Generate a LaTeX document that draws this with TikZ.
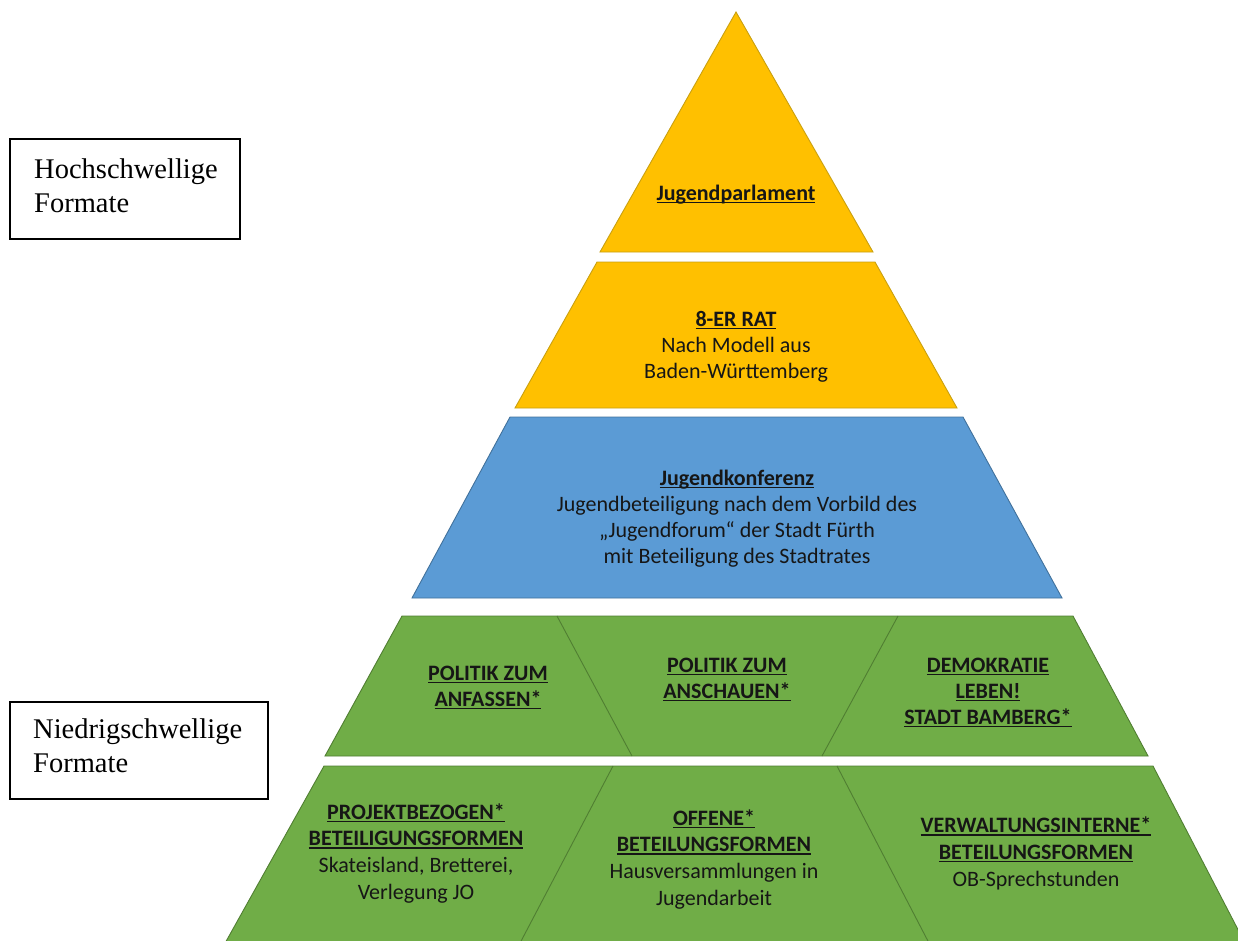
\documentclass[tikz,border=0pt]{standalone}
\usepackage{fontspec}
\setmainfont{Carlito}
\newfontfamily\tnr{Liberation Serif}
\newsavebox\ulbox
\newcommand\ulx[1]{\sbox\ulbox{\textbf{#1}}\rlap{\rule[-2.7pt]{\wd\ulbox}{1.2pt}}\usebox\ulbox}
\definecolor{ylw}{HTML}{FFC000}
\definecolor{ylwd}{HTML}{C9A010}
\definecolor{blu}{HTML}{5B9BD5}
\definecolor{blud}{HTML}{41719C}
\definecolor{grn}{HTML}{70AD47}
\definecolor{grnd}{HTML}{507E32}
\definecolor{txt}{HTML}{161616}
\begin{document}
\begin{tikzpicture}[x=1pt,y=-1pt,
  band/.style={line width=0.9pt, line join=miter},
  yband/.style={band, fill=ylw, draw=ylwd},
  bband/.style={band, fill=blu, draw=blud},
  gband/.style={band, fill=grn, draw=grnd},
  divline/.style={draw=grnd, line width=0.9pt},
  lbl/.style={font=\fontsize{22}{26}\selectfont, align=center, text=txt, anchor=base, inner sep=0pt},
  lblb/.style={lbl, font=\fontsize{22}{26.6}\selectfont},
  sidebox/.style={draw=black, line width=1.3pt},
  sidetext/.style={font=\tnr\fontsize{28.5}{34}\selectfont, align=left, anchor=base west, inner sep=0pt, text=black}]
\useasboundingbox (0,0) rectangle (1238,940);
\clip (0,0) rectangle (1238,940);
% pyramid levels
\path[yband] (736,12) -- (873,252) -- (600,252) -- cycle;
\path[yband] (597,262) -- (875,262) -- (957,408) -- (515,408) -- cycle;
\path[bband] (510,417) -- (963,417) -- (1062,598) -- (412,598) -- cycle;
\path[gband] (402,616) -- (1073,616) -- (1148,756) -- (325,756) -- cycle;
\draw[divline] (557,616) -- (632,756);
\draw[divline] (898,616) -- (822,756);
\path[gband] (324,766) -- (1153,766) -- (1246,945) -- (224,945) -- cycle;
\draw[divline] (613,766) -- (519,945);
\draw[divline] (837,766) -- (930,945);
% texts (anchor = baseline of last line)
\node[lbl] (jp) at (736,200) {\ulx{Jugendparlament}};
\node[lbl] (rat) at (736,378) {\ulx{8-ER RAT}\\Nach Modell aus\\Baden-Württemberg};
\node[lbl] (jk) at (737,563) {\ulx{Jugendkonferenz}\\Jugendbeteiligung nach dem Vorbild des\\„Jugendforum“ der Stadt Fürth\\mit Beteiligung des Stadtrates};
\node[lbl] (pza) at (488,706) {\ulx{POLITIK ZUM}\\\ulx{ANFASSEN*}};
\node[lbl] (pzs) at (727,698) {\ulx{POLITIK ZUM}\\\ulx{ANSCHAUEN*}};
\node[lbl] (dl) at (988,724) {\ulx{DEMOKRATIE}\\\ulx{LEBEN!}\\\ulx{STADT BAMBERG*}};
\node[lblb] (pb) at (416,899) {\ulx{PROJEKTBEZOGEN*}\\\ulx{BETEILIGUNGSFORMEN}\\Skateisland, Bretterei,\\Verlegung JO};
\node[lblb] (of) at (714,905) {\ulx{OFFENE*}\\\ulx{BETEILUNGSFORMEN}\\Hausversammlungen in\\Jugendarbeit};
\node[lblb] (vi) at (1036,886) {\ulx{VERWALTUNGSINTERNE*}\\\ulx{BETEILUNGSFORMEN}\\OB-Sprechstunden};
% side boxes
\path[sidebox] (10,139) rectangle (240,239);
\node[sidetext] (hs) at (34,212) {Hochschwellige\\Formate};
\path[sidebox] (10,702) rectangle (268,799);
\node[sidetext] (ns) at (33,772) {Niedrigschwellige\\Formate};
\end{tikzpicture}
\end{document}
